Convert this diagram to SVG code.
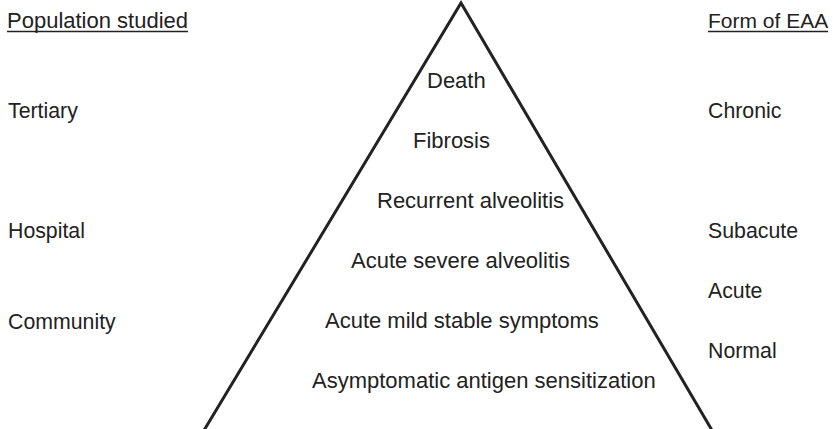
<svg xmlns="http://www.w3.org/2000/svg" width="833" height="429" viewBox="0 0 833 429">
<style>
text{font-family:"Liberation Sans",Arial,sans-serif;font-size:22px;fill:#222}
.s{font-size:21.3px}
.u{stroke:#222;stroke-width:1.6}
</style>
<rect width="833" height="429" fill="#fff"/>
<g id="connectors">
<polyline points="203,432 461,3 713,432" fill="none" stroke="#222" stroke-width="3" stroke-linejoin="miter"/>
</g>
<g id="head-left"><text x="7" y="28">Population studied</text><line class="u" x1="7" y1="31.5" x2="188" y2="31.5"/></g>
<g id="head-right"><text class="s" x="708" y="28" style="font-size:21px">Form of EAA</text><line class="u" x1="708" y1="31.5" x2="828" y2="31.5"/></g>
<g id="tertiary"><text class="s" x="8" y="118">Tertiary</text></g>
<g id="hospital"><text class="s" x="8" y="238">Hospital</text></g>
<g id="community"><text class="s" x="8" y="329">Community</text></g>
<g id="chronic"><text class="s" x="708" y="118">Chronic</text></g>
<g id="subacute"><text class="s" x="708" y="238">Subacute</text></g>
<g id="acute"><text class="s" x="708" y="298">Acute</text></g>
<g id="normal"><text class="s" x="708" y="358">Normal</text></g>
<g id="death"><text x="427" y="88">Death</text></g>
<g id="fibrosis"><text x="413" y="148">Fibrosis</text></g>
<g id="recurrent"><text x="377" y="208">Recurrent alveolitis</text></g>
<g id="acute-severe"><text x="351" y="268">Acute severe alveolitis</text></g>
<g id="acute-mild"><text x="325" y="328">Acute mild stable symptoms</text></g>
<g id="asymptomatic"><text x="312" y="388">Asymptomatic antigen sensitization</text></g>
</svg>
